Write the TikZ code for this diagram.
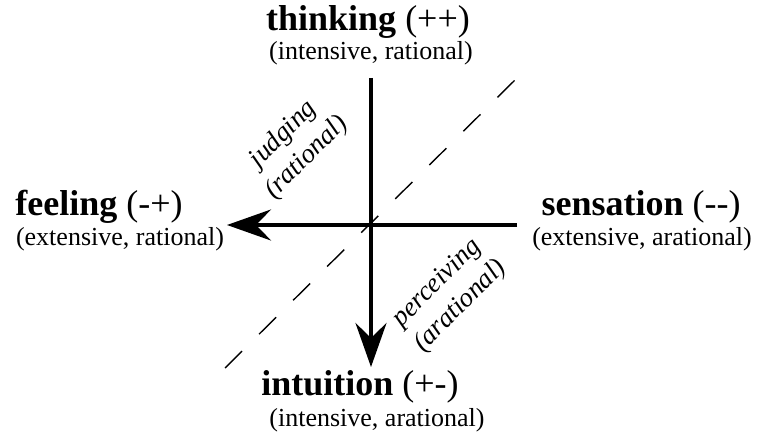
\documentclass[tikz,border=0pt]{standalone}
\usepackage{fontspec}
\setmainfont{Liberation Serif}
\usetikzlibrary{arrows.meta}

\begin{document}
\begin{tikzpicture}[
    x=1pt, y=1pt,
    axis/.style={line width=4pt, -{Stealth[length=44pt, width=31pt, inset=15pt]}},
    split/.style={line width=1.4pt, dash pattern=on 24pt off 24pt},
    head/.style={font=\fontsize{36}{40}\selectfont, anchor=base, inner sep=0pt},
    sub/.style={font=\fontsize{26}{30}\selectfont, anchor=base, inner sep=0pt},
    side/.style={font=\fontsize{27}{33}\selectfont\itshape, align=center,
                 rotate=45, inner sep=0pt},
]
\useasboundingbox (0,0) rectangle (759,437);

% Function labels at the four ends
\node[head] (think) at (368, 406) {\textbf{thinking} (++)};
\node[sub] (thinksub) at (371, 377) {(intensive, rational)};
\node[head] (feel) at (99, 222) {\textbf{feeling} (-+)};
\node[sub] (feelsub) at (120, 192) {(extensive, rational)};
\node[head] (sens) at (641, 222) {\textbf{sensation} (-{}-)};
\node[sub] (senssub) at (642, 192) {(extensive, arational)};
\node[head] (intu) at (360, 42) {\textbf{intuition} (+-)};
\node[sub] (intusub) at (377, 11) {(intensive, arational)};

% Axis end points
\coordinate (ntop) at (371, 359);
\coordinate (stip) at (371, 70);
\coordinate (eend) at (517, 212);
\coordinate (wtip) at (227, 212);

% Axes
\draw[axis] (ntop) -- (stip);
\draw[axis] (eend) -- (wtip);

% Dividing diagonal
\coordinate (dlow) at (225, 69);
\coordinate (dhigh) at (515, 357);
\draw[split] (dlow) -- (dhigh);

% Diagonal labels
\node[side] (judge) at (295, 291) {judging\\(rational)};
\node[side] (perc) at (449, 142) {perceiving\\(arational)};

\end{tikzpicture}
\end{document}
